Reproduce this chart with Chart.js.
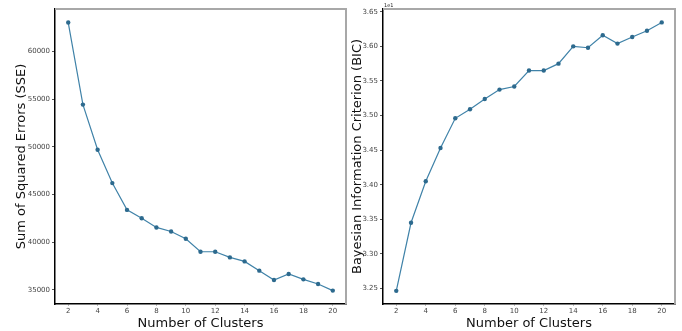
<!DOCTYPE html>
<html>
<head>
<meta charset="utf-8">
<script src="https://cdn.jsdelivr.net/npm/chart.js@4.4.1/dist/chart.umd.min.js"></script>
<style>
  body { margin: 0; background: #fff; }
  #wrap { position: relative; width: 682px; height: 331px; overflow: hidden; }
  .box { position: absolute; top: 0; height: 331px; }
  #sseBox { left: 0; width: 350px; }
  #bicBox { left: 346px; width: 336px; }
</style>
</head>
<body>
<div id="wrap">
  <div class="box" id="sseBox"><canvas id="sseChart"></canvas></div>
  <div class="box" id="bicBox"><canvas id="bicChart"></canvas></div>
</div>
<script>
// ---- data ----
const clusters = [2, 3, 4, 5, 6, 7, 8, 9, 10, 11, 12, 13, 14, 15, 16, 17, 18, 19, 20];
const sseValues = [63030, 54430, 49700, 46200, 43390, 42520, 41550, 41130, 40360, 39000,
  39000, 38410, 37990, 37020, 36040, 36670, 36110, 35620, 34930];
const bicValues = [3.2466, 3.345, 3.405, 3.453, 3.496, 3.509, 3.524, 3.5375, 3.542, 3.565,
  3.565, 3.575, 3.600, 3.598, 3.616, 3.604, 3.6135, 3.6226, 3.6346];
const xTicks = [2, 4, 6, 8, 10, 12, 14, 16, 18, 20];
const sseTicks = [35000, 40000, 45000, 50000, 55000, 60000];
const bicTicks = [3.25, 3.30, 3.35, 3.40, 3.45, 3.50, 3.55, 3.60, 3.65];

const FONT = '"DejaVu Sans", sans-serif';
const LINE_COLOR = '#3f82a8';
const POINT_COLOR = '#2d6a8e';

// gray frame on top/right, like the matplotlib style used
const framePlugin = {
  id: 'frame',
  afterDraw(chart, args, opts) {
    const { ctx, chartArea: a } = chart;
    ctx.save();
    ctx.strokeStyle = '#a8a8a8';
    ctx.lineWidth = 2;
    ctx.beginPath();
    ctx.moveTo(a.left, a.top);
    ctx.lineTo(a.right, a.top);
    ctx.lineTo(a.right, a.bottom);
    ctx.stroke();
    if (opts.offsetText) {
      ctx.fillStyle = '#222';
      ctx.font = '5px ' + FONT;
      ctx.textBaseline = 'bottom';
      ctx.fillText(opts.offsetText, a.left + 1, a.top - 1);
    }
    ctx.restore();
  }
};

function makeChart(id, values, yTicks, yMin, yMax, yTitle, yWidth, titlePad, pad, fmt, offsetText) {
  return new Chart(document.getElementById(id), {
    type: 'line',
    data: {
      datasets: [{
        data: clusters.map((c, i) => ({ x: c, y: values[i] })),
        borderColor: LINE_COLOR,
        borderWidth: 1.2,
        pointRadius: 2.2,
        pointBackgroundColor: POINT_COLOR,
        pointBorderColor: POINT_COLOR,
        pointBorderWidth: 0,
        tension: 0
      }]
    },
    options: {
      responsive: true,
      maintainAspectRatio: false,
      animation: false,
      layout: { padding: pad },
      plugins: {
        legend: { display: false },
        tooltip: { enabled: false },
        frame: { offsetText: offsetText }
      },
      scales: {
        x: {
          type: 'linear',
          min: 1.1,
          max: 20.9,
          afterBuildTicks: s => { s.ticks = xTicks.map(v => ({ value: v })); },
          afterFit: s => { s.height = 27; },
          grid: { drawOnChartArea: false, tickLength: 2, color: '#bbb' },
          border: { color: '#000', width: 1.5 },
          ticks: { color: '#444', font: { family: FONT, size: 7 }, padding: 1, maxRotation: 0 },
          title: { display: true, text: 'Number of Clusters', color: '#111',
                   font: { family: FONT, size: 13 }, padding: { top: 0, bottom: 0 } }
        },
        y: {
          min: yMin,
          max: yMax,
          afterBuildTicks: s => { s.ticks = yTicks.map(v => ({ value: v })); },
          afterFit: s => { s.width = yWidth; },
          grid: { drawOnChartArea: false, tickLength: 3, color: '#555' },
          border: { color: '#000', width: 1.5 },
          ticks: { color: '#444', font: { family: FONT, size: 7 }, padding: 2, callback: fmt },
          title: { display: true, text: yTitle, color: '#111',
                   font: { family: FONT, size: 13 }, padding: { top: titlePad, bottom: 0 } }
        }
      }
    },
    plugins: [framePlugin]
  });
}

makeChart('sseChart', sseValues, sseTicks, 33525, 64450, 'Sum of Squared Errors (SSE)',
  55, 14, { top: 9, right: 4, left: 0, bottom: 0 }, v => String(v), null);
makeChart('bicChart', bicValues, bicTicks, 3.2276, 3.654, 'Bayesian Information Criterion (BIC)',
  37, 4, { top: 9, right: 7, left: 0, bottom: 0 }, v => v.toFixed(2), '1e1');
</script>
</body>
</html>
